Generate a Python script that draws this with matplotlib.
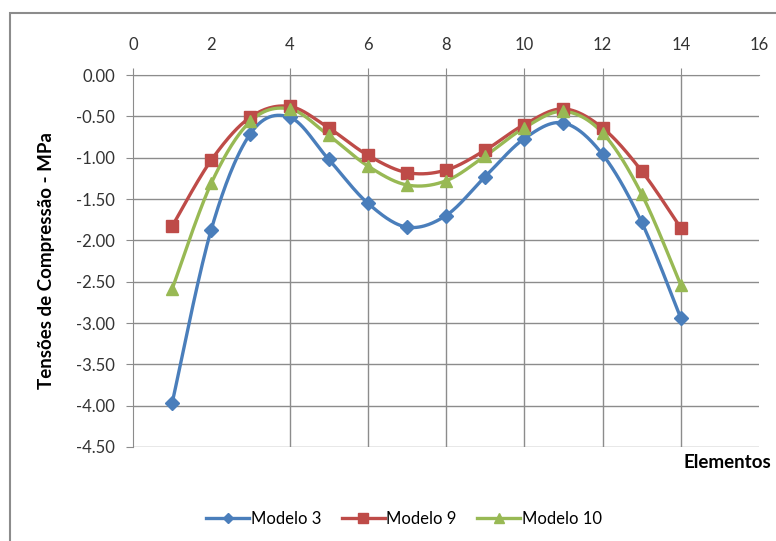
import numpy as np
import matplotlib.pyplot as plt
from matplotlib.patches import Rectangle

elementos = [1, 2, 3, 4, 5, 6, 7, 8, 9, 10, 11, 12, 13, 14]
modelo3 = [-3.97, -1.87, -0.71, -0.51, -1.02, -1.55, -1.84, -1.70, -1.23, -0.77, -0.58, -0.96, -1.78, -2.94]
modelo9 = [-1.83, -1.03, -0.51, -0.38, -0.64, -0.97, -1.18, -1.15, -0.91, -0.60, -0.41, -0.64, -1.16, -1.85]
modelo10 = [-2.59, -1.31, -0.56, -0.41, -0.73, -1.10, -1.33, -1.28, -0.98, -0.64, -0.44, -0.70, -1.44, -2.54]
series_names = ['Modelo 3', 'Modelo 9', 'Modelo 10']


def smooth(x, y, n=30):
    # excel-like smoothed line (bezier through the points)
    x = np.asarray(x, float)
    y = np.asarray(y, float)
    px = np.concatenate([[x[0]], x, [x[-1]]])
    py = np.concatenate([[y[0]], y, [y[-1]]])
    xs, ys = [], []
    t = np.linspace(0, 1, n)
    for i in range(1, len(px) - 2):
        p0 = np.array([px[i], py[i]])
        p3 = np.array([px[i + 1], py[i + 1]])
        c1 = p0 + (p3 - np.array([px[i - 1], py[i - 1]])) / 6
        c2 = p3 - (np.array([px[i + 2], py[i + 2]]) - p0) / 6
        b = (np.outer((1 - t) ** 3, p0) + np.outer(3 * (1 - t) ** 2 * t, c1)
             + np.outer(3 * (1 - t) * t ** 2, c2) + np.outer(t ** 3, p3))
        xs.extend(b[:, 0])
        ys.extend(b[:, 1])
    return np.array(xs), np.array(ys)


plt.rcParams['font.family'] = ['Lato', 'DejaVu Sans']

fig = plt.figure(figsize=(7.76, 5.41), dpi=100)
ax = fig.add_axes([133 / 776, 1 - 447 / 541, 626 / 776, 372 / 541])

styles = [('#4A7EBB', 'D', 7), ('#BE4B48', 's', 9), ('#98B954', '^', 9)]
for data, name, (c, m, ms) in zip([modelo3, modelo9, modelo10], series_names, styles):
    sx, sy = smooth(elementos, data)
    ax.plot(sx, sy, color=c, lw=2.4, zorder=3)
    ax.plot(elementos, data, ls='none', marker=m, ms=ms, color=c, zorder=4)
    ax.plot([], [], color=c, lw=2.4, marker=m, ms=ms - 2, label=name)

ax.set_xlim(0, 16)
ax.set_ylim(-4.5, 0)
ax.set_xticks(range(0, 17, 2))
ax.set_yticks(np.arange(-4.5, 0.01, 0.5))
ax.yaxis.set_major_formatter(plt.FormatStrFormatter('%.2f'))
ax.xaxis.tick_top()

# gridlines (no line at x=2 in the original)
for yv in np.arange(-4.5, 0.01, 0.5):
    ax.axhline(yv, color='#8c8c8c', lw=1, zorder=1)
for xv in range(4, 15, 2):
    ax.axvline(xv, color='#8c8c8c', lw=1, zorder=1)

for s in ['right', 'bottom']:
    ax.spines[s].set_visible(False)
ax.spines['top'].set_color('#8c8c8c')
ax.spines['left'].set_color('#8c8c8c')
ax.tick_params(axis='x', direction='out', length=5, color='#8c8c8c', labelsize=12,
               pad=11, labelcolor='#333333')
ax.tick_params(axis='y', direction='out', length=5, color='#8c8c8c', labelsize=12,
               pad=8, labelcolor='#333333')
# hide tick marks at 2 and 16
for i, tk in enumerate(ax.xaxis.get_major_ticks()):
    if i in (1, 8):
        tk.tick2line.set_visible(False)

fig.text(47 / 776, 1 - 261 / 541, 'Tensões de Compressão - MPa', rotation=90,
         ha='center', va='center', fontsize=13.5, fontweight='bold')
fig.text(771 / 776, 1 - 463 / 541, 'Elementos', ha='right', va='center',
         fontsize=13.5, fontweight='bold')

fig.legend(loc='center', bbox_to_anchor=(404 / 776, 1 - 519 / 541), ncol=3, frameon=False,
           fontsize=12, handlelength=2.6, columnspacing=1.2, handletextpad=0.1)

fig.patches.append(Rectangle((10 / 776, -0.1), 1.2, 1 - 13 / 541 + 0.1,
                             transform=fig.transFigure, fill=False,
                             edgecolor='#8c8c8c', lw=1.5))

fig.savefig('out.png', dpi=100)
